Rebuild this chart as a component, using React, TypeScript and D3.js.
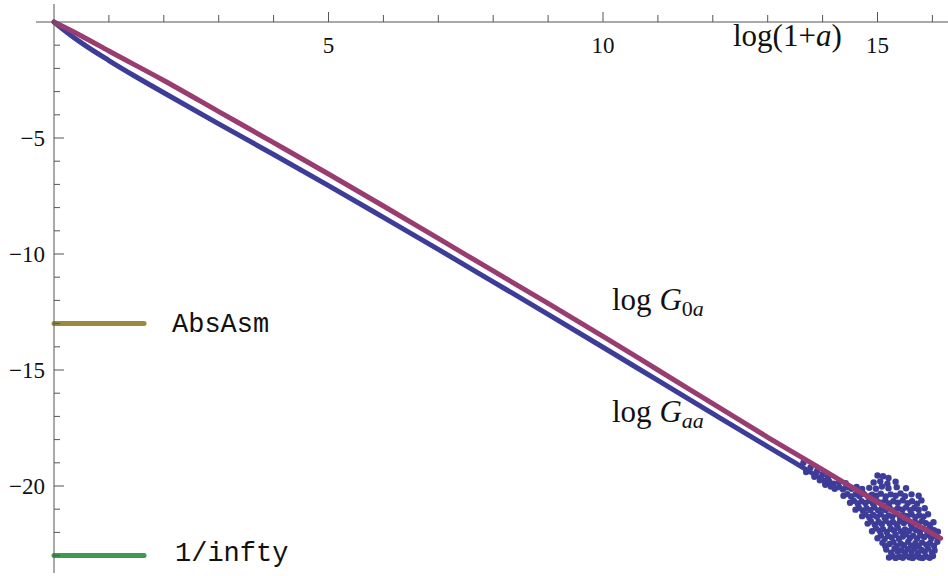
import React, { useEffect, useRef } from 'react';
import * as d3 from 'd3';

// log(1+a) sample positions for the two curves
const xG0a = [0, 0.5, 1, 2, 3, 4, 5, 6, 7, 8, 9, 10, 11, 12, 13, 14, 15, 16.15];
const logG0a = [0, -0.6, -1.25, -2.52, -3.86, -5.2, -6.55, -7.93, -9.33, -10.73, -12.13, -13.55, -15.0, -16.45, -17.9, -19.3, -20.7, -22.25];

const xGaa = [0, 0.25, 0.5, 1, 1.5, 2, 3, 4, 5, 6, 7, 8, 9, 10, 11, 12, 13, 13.5, 14, 14.2];
const logGaa = [0, -0.47, -0.9, -1.66, -2.37, -3.05, -4.39, -5.71, -7.05, -8.42, -9.8, -11.2, -12.6, -14.02, -15.45, -16.88, -18.3, -19.0, -19.72, -20.0];

// noisy tail of log Gaa
const gaaTail: [number, number][] = [
  [15.21, -23.08], [15.27, -23.02], [15.33, -23.1], [15.4, -23.05], [15.46, -23.09], [15.51, -23.0], [15.58, -23.07], [15.64, -23.1], [15.7, -23.03], [15.77, -23.08], [15.82, -23.1], [15.88, -23.04], [15.95, -23.09], [16.01, -23.02],
  [15.16, -22.74], [15.25, -22.88], [15.31, -22.7], [15.37, -22.83], [15.44, -22.77], [15.5, -22.9], [15.55, -22.72], [15.62, -22.85], [15.67, -22.7], [15.74, -22.88], [15.8, -22.76], [15.86, -22.83], [15.92, -22.7], [15.99, -22.86], [16.04, -22.78],
  [15.09, -22.45], [15.14, -22.58], [15.22, -22.5], [15.29, -22.42], [15.35, -22.6], [15.42, -22.48], [15.48, -22.55], [15.56, -22.4], [15.61, -22.57], [15.69, -22.47], [15.75, -22.6], [15.81, -22.44], [15.89, -22.53], [15.96, -22.46], [16.03, -22.58], [16.09, -22.4],
  [15.0, -22.25], [15.06, -22.12], [15.13, -22.28], [15.19, -22.15], [15.26, -22.22], [15.33, -22.1], [15.39, -22.27], [15.46, -22.18], [15.52, -22.08], [15.59, -22.24], [15.65, -22.14], [15.72, -22.26], [15.78, -22.12], [15.85, -22.2], [15.91, -22.1], [15.98, -22.25], [16.05, -22.15],
  [14.9, -21.95], [14.97, -21.82], [15.04, -21.93], [15.1, -21.86], [15.17, -21.98], [15.24, -21.84], [15.3, -21.92], [15.37, -21.8], [15.43, -21.96], [15.5, -21.87], [15.57, -21.94], [15.63, -21.82], [15.7, -21.9], [15.77, -21.98], [15.84, -21.85], [15.9, -21.92], [15.96, -21.8], [16.03, -21.9], [16.1, -21.97],
  [14.82, -21.62], [14.88, -21.52], [14.95, -21.66], [15.02, -21.55], [15.08, -21.64], [15.15, -21.5], [15.22, -21.62], [15.28, -21.55], [15.35, -21.66], [15.41, -21.52], [15.48, -21.6], [15.55, -21.5], [15.61, -21.66], [15.68, -21.55], [15.74, -21.63], [15.81, -21.52], [15.88, -21.6], [15.95, -21.68], [16.02, -21.56],
  [14.72, -21.3], [14.78, -21.22], [14.85, -21.35], [14.92, -21.25], [14.99, -21.33], [15.06, -21.22], [15.13, -21.36], [15.2, -21.27], [15.27, -21.32], [15.34, -21.2], [15.41, -21.35], [15.47, -21.26], [15.54, -21.3], [15.62, -21.22], [15.69, -21.34], [15.76, -21.26], [15.84, -21.32], [15.92, -21.22],
  [14.6, -21.02], [14.66, -20.94], [14.73, -21.05], [14.8, -20.96], [14.87, -21.04], [14.94, -20.92], [15.01, -21.05], [15.08, -20.97], [15.15, -21.03], [15.22, -20.93], [15.3, -21.05], [15.37, -20.96], [15.45, -21.02], [15.52, -20.92], [15.6, -21.04], [15.67, -20.95], [15.75, -21.02], [15.86, -20.96],
  [14.5, -20.72], [14.57, -20.64], [14.64, -20.75], [14.71, -20.66], [14.78, -20.73], [14.85, -20.64], [14.92, -20.76], [14.99, -20.66], [15.06, -20.72], [15.14, -20.63], [15.21, -20.75], [15.29, -20.66], [15.37, -20.72], [15.46, -20.62], [15.55, -20.74], [15.63, -20.66], [15.72, -20.76], [15.8, -20.62],
  [14.38, -20.42], [14.45, -20.35], [14.52, -20.45], [14.6, -20.36], [14.67, -20.43], [14.75, -20.34], [14.83, -20.45], [14.9, -20.37], [14.98, -20.42], [15.06, -20.33], [15.15, -20.45], [15.24, -20.36], [15.33, -20.42], [15.42, -20.32], [15.5, -20.44], [15.62, -20.36], [15.75, -20.42],
  [14.22, -20.12], [14.3, -20.05], [14.37, -20.14], [14.45, -20.06], [14.53, -20.12], [14.62, -20.04], [14.72, -20.13], [14.85, -20.08], [14.97, -20.12], [15.08, -20.02], [15.2, -20.1], [15.35, -20.05], [15.52, -20.1],
  [14.05, -19.88], [14.12, -19.8], [14.2, -19.9], [14.3, -19.83], [14.42, -19.88], [14.93, -19.85], [15.05, -19.8], [15.18, -19.9], [15.33, -19.82],
  [15.0, -19.55], [15.1, -19.58], [15.2, -19.65],
  [13.65, -19.0], [13.7, -19.4], [13.78, -19.2], [13.85, -19.6], [13.9, -19.35], [13.95, -19.75], [14.0, -19.5], [14.05, -19.95], [14.1, -19.62], [14.15, -20.02],
];

// legend entries: y level, label, colour
const legendY = [-13, -23];
const legendLabels = ['AbsAsm', '1/infty'];
const legendColors = ['#998b3d', '#3d9954'];

const xMajor = [5, 10, 15];
const yMajor = [-5, -10, -15, -20];

const App = () => {
  const ref = useRef<SVGSVGElement>(null);

  useEffect(() => {
    const width = 948;
    const svg = d3.select(ref.current);
    svg.selectAll('*').remove();

    const x = d3.scaleLinear().domain([0, 15]).range([54, 877.5]);
    const y = d3.scaleLinear().domain([0, -20]).range([22, 486]);

    const blue = '#3d3d99';
    const red = '#993d71';
    const axisColor = '#555';

    // curves
    const line = d3.line<[number, number]>().x((d) => x(d[0])).y((d) => y(d[1])).curve(d3.curveMonotoneX);

    svg.append('path')
      .datum(xGaa.map((v, i) => [v, logGaa[i]] as [number, number]))
      .attr('d', line)
      .attr('fill', 'none')
      .attr('stroke', blue)
      .attr('stroke-width', 5)
      .attr('stroke-linecap', 'round');

    svg.append('g')
      .selectAll('circle')
      .data(gaaTail)
      .enter()
      .append('circle')
      .attr('cx', (d) => x(d[0]))
      .attr('cy', (d) => y(d[1]))
      .attr('r', 3.2)
      .attr('fill', blue);

    svg.append('path')
      .datum(xG0a.map((v, i) => [v, logG0a[i]] as [number, number]))
      .attr('d', line)
      .attr('fill', 'none')
      .attr('stroke', red)
      .attr('stroke-width', 5)
      .attr('stroke-linecap', 'round');

    // legend lines
    legendY.forEach((ly, i) => {
      svg.append('line')
        .attr('x1', x(0)).attr('x2', x(1.64))
        .attr('y1', y(ly)).attr('y2', y(ly))
        .attr('stroke', legendColors[i])
        .attr('stroke-width', 5)
        .attr('stroke-linecap', 'round');
      svg.append('text')
        .attr('x', i === 0 ? 172 : 175)
        .attr('y', y(ly) + (i === 0 ? 8 : 5))
        .attr('font-family', '"Liberation Mono", monospace')
        .attr('font-size', 27)
        .attr('fill', '#111')
        .text(legendLabels[i]);
    });

    // axes
    const ax = svg.append('g').attr('stroke', axisColor).attr('stroke-width', 1);
    ax.append('line').attr('x1', 36).attr('x2', width).attr('y1', y(0)).attr('y2', y(0));
    ax.append('line').attr('x1', x(0)).attr('x2', x(0)).attr('y1', 4).attr('y2', 573);

    d3.range(1, 17).forEach((t) => {
      const major = xMajor.includes(t);
      ax.append('line')
        .attr('x1', x(t)).attr('x2', x(t))
        .attr('y1', y(0)).attr('y2', y(0) - (major ? 10 : 7));
    });
    d3.range(-1, -24, -1).forEach((t) => {
      const major = yMajor.includes(t);
      ax.append('line')
        .attr('x1', x(0)).attr('x2', x(0) + (major ? 10 : 6))
        .attr('y1', y(t)).attr('y2', y(t));
    });

    const serif = '"Liberation Serif", "Times New Roman", serif';
    svg.append('g')
      .selectAll('text')
      .data(xMajor)
      .enter()
      .append('text')
      .attr('x', (d) => x(d))
      .attr('y', 53)
      .attr('text-anchor', 'middle')
      .attr('font-family', serif)
      .attr('font-size', 23)
      .attr('fill', '#111')
      .text((d) => d);

    svg.append('g')
      .selectAll('text')
      .data(yMajor)
      .enter()
      .append('text')
      .attr('x', 45)
      .attr('y', (d) => y(d) + 8)
      .attr('text-anchor', 'end')
      .attr('font-family', serif)
      .attr('font-size', 23)
      .attr('fill', '#111')
      .text((d) => '\u2212' + Math.abs(d));

    // axis label
    const xl = svg.append('text')
      .attr('x', 733).attr('y', 46)
      .attr('font-family', serif).attr('font-size', 31).attr('fill', '#111');
    xl.append('tspan').text('log(1+');
    xl.append('tspan').attr('font-style', 'italic').text('a');
    xl.append('tspan').text(')');

    // curve labels
    const curveLabel = (ypos: number, sub: [string, boolean][]) => {
      const t = svg.append('text')
        .attr('x', 612).attr('y', ypos)
        .attr('font-family', serif).attr('font-size', 31).attr('fill', '#111');
      t.append('tspan').text('log ');
      t.append('tspan').attr('font-style', 'italic').text('G');
      sub.forEach(([s, it], i) => {
        const ts = t.append('tspan').attr('font-size', 22).text(s);
        if (it) ts.attr('font-style', 'italic');
        if (i === 0) ts.attr('dy', 6);
      });
    };
    curveLabel(310, [['0', false], ['a', true]]);
    curveLabel(422, [['a', true], ['a', true]]);
  }, []);

  return (
    <svg
      ref={ref}
      width={948}
      height={576}
      style={{ position: 'absolute', left: 0, top: 0, background: '#fff' }}
    />
  );
};

export default App;
